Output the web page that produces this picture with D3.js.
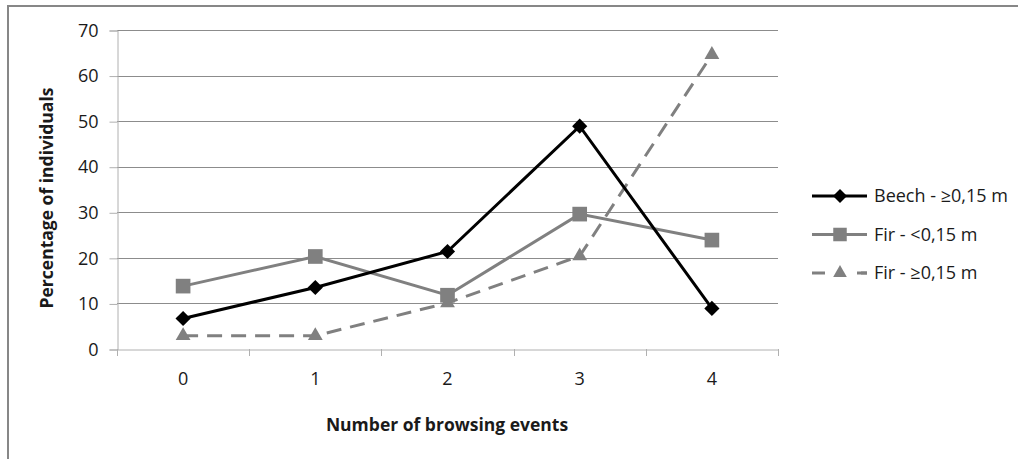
<!DOCTYPE html>
<html>
<head>
<meta charset="utf-8">
<script src="https://cdn.jsdelivr.net/npm/d3@7"></script>
<style>
    body { margin: 0; background: #fff; }
    text { font-family: "Open Sans", Lato, sans-serif; fill: #1a1a1a; }
</style>
</head>
<body>
<div class="chart"></div>
<script>
// Categories on the x axis
var categories = ["0", "1", "2", "3", "4"];

// Series values (percentage of individuals)
var beech = [6.7, 13.5, 21.4, 48.9, 8.9];
var firSmall = [13.8, 20.3, 11.8, 29.6, 23.9];
var firLarge = [2.9, 2.9, 10.1, 20.4, 64.6];

var seriesNames = ["Beech - \u22650,15 m", "Fir - <0,15 m", "Fir - \u22650,15 m"];

// Y tick labels
var yTicks = [0, 10, 20, 30, 40, 50, 60, 70];

var width = 1018, height = 459;
var fontFamily = "'Open Sans', Lato, sans-serif";

var svg = d3.select(".chart").append("svg")
    .attr("width", width)
    .attr("height", height);

// Outer frame
svg.append("rect")
    .attr("x", 8).attr("y", 6)
    .attr("width", 1020).attr("height", 470)
    .attr("fill", "none")
    .attr("stroke", "#878787")
    .attr("stroke-width", 2);

//The plot area.
var plotLeft = 117, plotRight = 778, plotTop = 30, plotBottom = 349;

var x = d3.scaleBand().domain(categories).range([plotLeft, plotRight]);
var y = d3.scaleLinear().domain([0, 70]).range([plotBottom, plotTop]);

//Grid lines.
svg.append("g").selectAll("line").data(yTicks.slice(1)).enter()
    .append("line")
    .attr("x1", plotLeft).attr("x2", plotRight)
    .attr("y1", function(d) { return Math.round(y(d)) + 0.5; })
    .attr("y2", function(d) { return Math.round(y(d)) + 0.5; })
    .attr("stroke", "#8c8c8c");

//Y axis.
var yAxis = svg.append("g")
    .attr("transform", "translate(" + (plotLeft + 0.5) + ",0.5)")
    .call(d3.axisLeft(y).tickValues(yTicks).tickSize(8).tickPadding(11));
yAxis.select(".domain").attr("stroke", "#b0b0b0");
yAxis.selectAll(".tick line").attr("stroke", "#b0b0b0");
yAxis.selectAll(".tick text").style("font-size", "18px").attr("fill", "#1a1a1a")
    .style("font-family", fontFamily);

//X axis.
var xAxis = svg.append("g")
    .attr("transform", "translate(0," + (plotBottom + 0.5) + ")")
    .call(d3.axisBottom(x).tickSize(0).tickPadding(23));
xAxis.select(".domain").attr("stroke", "#b0b0b0");
xAxis.selectAll(".tick text").style("font-size", "18px").attr("fill", "#1a1a1a")
    .style("font-family", fontFamily);

//X axis tick marks between categories.
var bounds = categories.map(function(c) { return x(c); }).concat([plotRight]);
svg.append("g").selectAll("line").data(bounds).enter()
    .append("line")
    .attr("x1", function(d) { return Math.round(d) + 0.5; })
    .attr("x2", function(d) { return Math.round(d) + 0.5; })
    .attr("y1", plotBottom).attr("y2", plotBottom + 7)
    .attr("stroke", "#b0b0b0");

//Axis titles.
svg.append("text")
    .attr("x", 447).attr("y", 431)
    .attr("text-anchor", "middle")
    .style("font-size", "17.5px").style("font-weight", "bold")
    .text("Number of browsing events");

svg.append("text")
    .attr("transform", "translate(53,198) rotate(-90)")
    .attr("text-anchor", "middle")
    .style("font-size", "17.5px").style("font-weight", "bold")
    .text("Percentage of individuals");

var cx = function(d, i) { return x(categories[i]) + x.bandwidth() / 2; };

var line = d3.line()
    .x(cx)
    .y(function(d) { return y(d); });

var series = [
    { name: seriesNames[0], values: beech, color: "#000000", dash: null, symbol: d3.symbolSquare, size: 115, rotate: 45 },
    { name: seriesNames[1], values: firSmall, color: "#808080", dash: null, symbol: d3.symbolSquare, size: 215, rotate: 0 },
    { name: seriesNames[2], values: firLarge, color: "#808080", dash: "15,9", symbol: d3.symbolTriangle, size: 95, rotate: 0 }
];

//Draw in reverse so Beech is on top.
series.slice().reverse().forEach(function(s) {
    svg.append("path")
        .datum(s.values)
        .attr("d", line)
        .attr("fill", "none")
        .attr("stroke", s.color)
        .attr("stroke-width", 3)
        .attr("stroke-dasharray", s.dash);

    svg.append("g").selectAll("path").data(s.values).enter()
        .append("path")
        .attr("d", d3.symbol().type(s.symbol).size(s.size))
        .attr("transform", function(d, i) {
            return "translate(" + cx(d, i) + "," + y(d) + ") rotate(" + s.rotate + ")";
        })
        .attr("fill", s.color);
});

//Legend.
var legend = svg.append("g").selectAll("g").data(series).enter()
    .append("g")
    .attr("transform", function(d, i) { return "translate(812," + (196 + i * 38.5) + ")"; });

legend.append("line")
    .attr("x1", 0).attr("x2", 55)
    .attr("stroke", function(d) { return d.color; })
    .attr("stroke-width", 3)
    .attr("stroke-dasharray", function(d) { return d.dash ? "13,36" : null; });

legend.filter(function(d) { return d.dash; }).append("line")
    .attr("x1", 45).attr("x2", 55)
    .attr("stroke", function(d) { return d.color; })
    .attr("stroke-width", 3);

legend.append("path")
    .attr("d", function(d) { return d3.symbol().type(d.symbol).size(d.size * 0.85)(); })
    .attr("transform", function(d) { return "translate(28,0) rotate(" + d.rotate + ")"; })
    .attr("fill", function(d) { return d.color; });

legend.append("text")
    .attr("x", 62).attr("y", 0)
    .attr("dy", "0.35em")
    .style("font-size", "18px")
    .text(function(d) { return d.name; });
</script>
</body>
</html>
